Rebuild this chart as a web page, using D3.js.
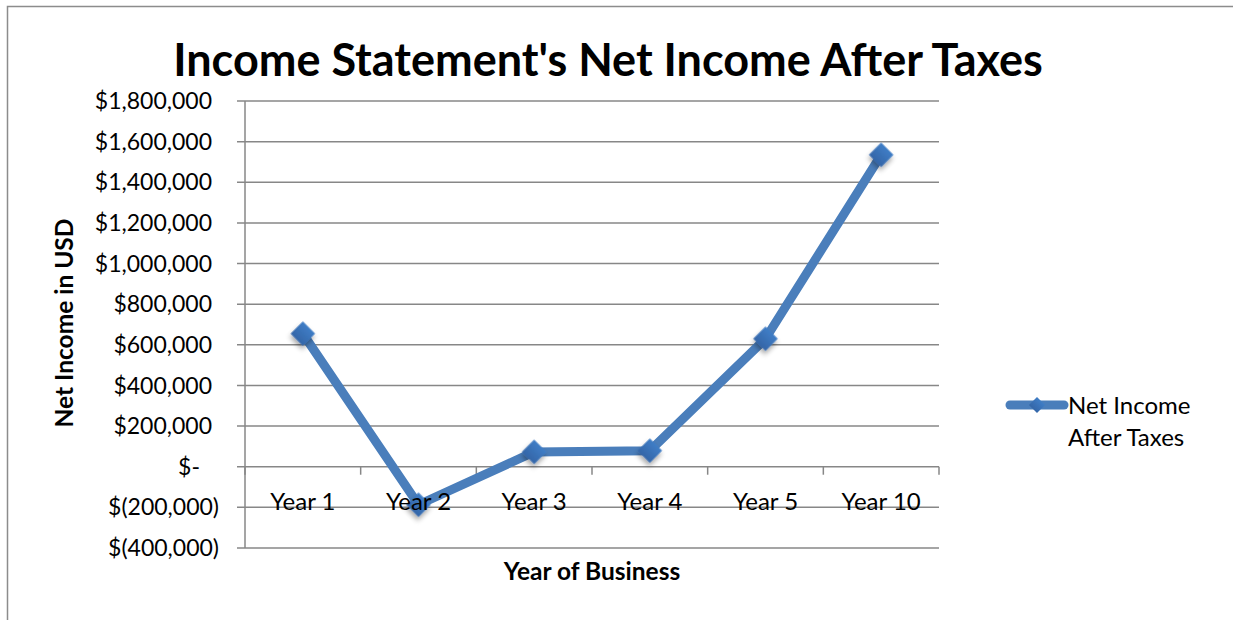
<!DOCTYPE html>
<html><head><meta charset="utf-8">
<script src="https://cdn.jsdelivr.net/npm/d3@7"></script>
<style>body{margin:0;background:#fff}svg{display:block}text{font-family:Lato,"Open Sans",sans-serif}</style>
</head><body><svg id="c" width="1233" height="620"></svg>
<script>
const categories = ["Year 1","Year 2","Year 3","Year 4","Year 5","Year 10"];
const netIncome = [655000, -187000, 73000, 79000, 630000, 1535000];
const yTicks = [-400000,-200000,0,200000,400000,600000,800000,1000000,1200000,1400000,1600000,1800000];
const seriesName = ["Net Income","After Taxes"];

const svg = d3.select("#c");
const W=1233,H=620;
const L=245,R=939,T=101,B=548;
const gridColor="#878787", lineColor="#4a7ebb";

const defs=svg.append("defs");
const f=defs.append("filter").attr("id","sh").attr("x","-50%").attr("y","-50%").attr("width","200%").attr("height","200%");
f.append("feDropShadow").attr("dx",2).attr("dy",3).attr("stdDeviation",2.5).attr("flood-color","#000").attr("flood-opacity",0.35);
const g=defs.append("linearGradient").attr("id","mg").attr("x1",0).attr("y1",0).attr("x2",0).attr("y2",1);
g.append("stop").attr("offset","0").attr("stop-color","#3f7dc6");
g.append("stop").attr("offset","1").attr("stop-color","#3466a8");

// outer border
svg.append("path").attr("d",`M7.5,${H+5} V6.5 H${W+5}`).attr("fill","none").attr("stroke","#8c8c8c").attr("stroke-width",1.5);

const x=d3.scaleBand().domain(categories).range([L,R]);
const y=d3.scaleLinear().domain([-400000,1800000]).range([B,T]);

// gridlines
svg.append("g").selectAll("line").data(yTicks).join("line")
 .attr("x1",L-8).attr("x2",R).attr("y1",d=>y(d)).attr("y2",d=>y(d))
 .attr("stroke",gridColor).attr("stroke-width",1.5);
// y axis line
svg.append("line").attr("x1",L).attr("x2",L).attr("y1",T).attr("y2",B).attr("stroke",gridColor).attr("stroke-width",1.5);
// x axis ticks at zero line
const bounds=categories.map(c=>x(c)+x.bandwidth()).concat([L]);
svg.append("g").selectAll("line").data(bounds).join("line")
 .attr("x1",d=>d).attr("x2",d=>d).attr("y1",y(0)).attr("y2",y(0)+8)
 .attr("stroke",gridColor).attr("stroke-width",1.5);

// y tick labels
const fmt=d3.format(",");
svg.append("g").selectAll("text").data(yTicks).join("text")
 .attr("x",d=>d>0?212:(d<0?219:200)).attr("y",d=>y(d)).attr("dy","0.35em")
 .attr("text-anchor","end").attr("font-size",23).attr("fill","#000")
 .text(d=>d>0?"$"+fmt(d):(d<0?"$("+fmt(-d)+")":"$-"));

// line
const pts=categories.map((c,i)=>[x(c)+x.bandwidth()/2,y(netIncome[i])]);
svg.append("path").attr("d",d3.line()(pts)).attr("fill","none").attr("stroke",lineColor)
 .attr("stroke-width",9).attr("stroke-linejoin","round").attr("stroke-linecap","round");
const dia=d3.symbol().type(d3.symbolSquare).size(300);
svg.append("g").selectAll("path").data(pts).join("path")
 .attr("d",dia()).attr("transform",d=>`translate(${d[0]},${d[1]}) rotate(45)`)
 .attr("fill","url(#mg)").attr("filter","url(#sh)");

// x labels (drawn above the series)
svg.append("g").selectAll("text").data(categories).join("text")
 .attr("x",d=>x(d)+x.bandwidth()/2).attr("y",y(0)+35).attr("dy","0.35em")
 .attr("text-anchor","middle").attr("font-size",24).attr("fill","#000").text(d=>d);

// titles
svg.append("text").attr("x",608).attr("y",76).attr("text-anchor","middle").attr("font-size",45).attr("font-weight","bold").text("Income Statement's Net Income After Taxes");
svg.append("text").attr("x",592).attr("y",571).attr("dy","0.35em").attr("text-anchor","middle").attr("font-size",24.5).attr("font-weight","bold").text("Year of Business");
svg.append("text").attr("transform","translate(64,323) rotate(-90)").attr("dy","0.35em").attr("text-anchor","middle").attr("font-size",24.5).attr("font-weight","bold").text("Net Income in USD");

// legend
const lg=svg.append("g");
lg.append("line").attr("x1",1010).attr("x2",1064).attr("y1",405).attr("y2",405).attr("stroke",lineColor).attr("stroke-width",9).attr("stroke-linecap","round");
lg.append("path").attr("d",d3.symbol().type(d3.symbolSquare).size(130)()).attr("transform","translate(1037,405) rotate(45)").attr("fill","url(#mg)");
lg.selectAll("text").data(seriesName).join("text").attr("x",1068).attr("y",(d,i)=>406+i*32).attr("dy","0.35em").attr("font-size",24).text(d=>d);
</script></body></html>
